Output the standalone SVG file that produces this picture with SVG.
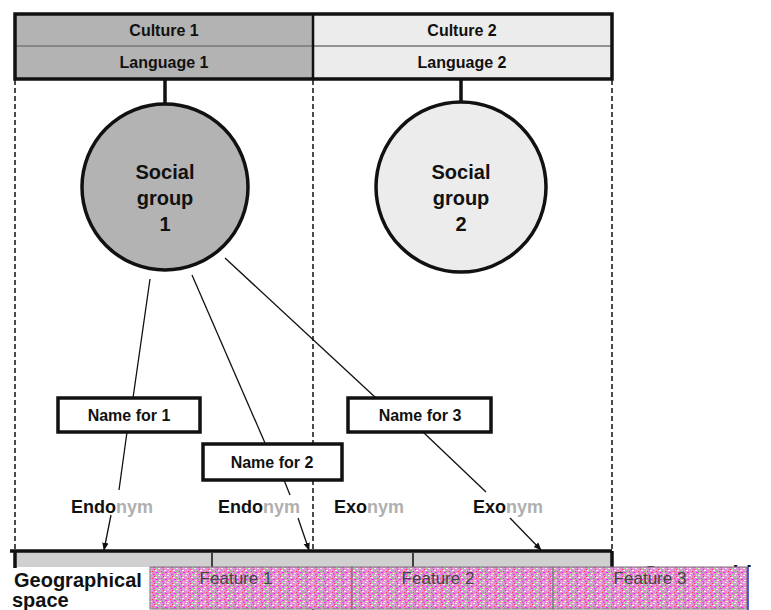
<svg xmlns="http://www.w3.org/2000/svg" width="771" height="610" viewBox="0 0 771 610">
<style>
.t{font-family:"Liberation Sans",Arial,sans-serif;font-weight:bold;fill:#111;text-anchor:middle}
.hdr{font-size:16px}
.sg{font-size:20px}
.nm{font-size:16px}
.lb{font-size:18px;font-family:"Liberation Sans",Arial,sans-serif;font-weight:bold}
.g{fill:#b0b0b0}
.dash{stroke:#111;stroke-width:1.5;stroke-dasharray:5,3;fill:none}
.conn{stroke:#111;stroke-width:1.3;fill:none}
.box{fill:#fff;stroke:#111;stroke-width:3.5}
.ft{font-family:"Liberation Sans",Arial,sans-serif;font-size:17px;fill:#444;text-anchor:middle}
</style>
<defs>
<marker id="ah" viewBox="0 0 10 10" refX="9" refY="5" markerWidth="8" markerHeight="8" orient="auto-start-reverse" markerUnits="userSpaceOnUse">
<path d="M0,1 L10,5 L0,9 z" fill="#111"/>
</marker>
<pattern id="noise" width="9" height="7" patternUnits="userSpaceOnUse">
<rect width="9" height="7" fill="#e090d0"/>
<rect x="0" y="0" width="2" height="1" fill="#ff30ff"/>
<rect x="3" y="0" width="1" height="2" fill="#9ef09a"/>
<rect x="5" y="1" width="2" height="1" fill="#f0f0f0"/>
<rect x="1" y="2" width="1" height="1" fill="#ff3060"/>
<rect x="7" y="2" width="1" height="2" fill="#c0c0c0"/>
<rect x="2" y="3" width="2" height="1" fill="#ffffff"/>
<rect x="5" y="4" width="1" height="1" fill="#60e060"/>
<rect x="0" y="5" width="1" height="2" fill="#a0a0a0"/>
<rect x="3" y="5" width="2" height="1" fill="#ff20ff"/>
<rect x="6" y="6" width="2" height="1" fill="#f4f4a0"/>
<rect x="8" y="4" width="1" height="1" fill="#ff4040"/>
</pattern>
<clipPath id="geoclip"><rect x="0" y="573" width="150" height="37"/></clipPath>
<clipPath id="geoclip2"><rect x="620" y="540" width="151" height="27"/></clipPath>
</defs>

<!-- header -->
<g id="culture1">
<rect x="15" y="14" width="298" height="32" fill="#b3b3b3"/>
<text class="t hdr" x="164" y="36">Culture 1</text>
</g>
<g id="language1">
<rect x="15" y="46" width="298" height="33" fill="#b3b3b3"/>
<text class="t hdr" x="164" y="68">Language 1</text>
</g>
<g id="culture2">
<rect x="313" y="14" width="299" height="32" fill="#ececec"/>
<text class="t hdr" x="462" y="36">Culture 2</text>
</g>
<g id="language2">
<rect x="313" y="46" width="299" height="33" fill="#ececec"/>
<text class="t hdr" x="462" y="68">Language 2</text>
</g>
<g id="header-frame" fill="none" stroke="#111">
<line x1="15" y1="46" x2="612" y2="46" stroke="#777" stroke-width="1.5"/>
<rect x="15" y="14" width="597" height="65" stroke-width="3.5"/>
<line x1="313" y1="14" x2="313" y2="79" stroke-width="2.5"/>
</g>

<!-- dashed column lines -->
<g id="columns">
<line class="dash" x1="15" y1="80" x2="15" y2="551"/>
<line class="dash" x1="313" y1="80" x2="313" y2="610"/>
<line class="dash" x1="612" y1="80" x2="612" y2="551"/>
</g>

<!-- geographic band -->
<g id="geo-band">
<rect x="15" y="551" width="597" height="16" fill="#d0d0d0"/>
<line x1="10" y1="551" x2="612" y2="551" stroke="#111" stroke-width="3.5"/>
<line x1="15" y1="551" x2="15" y2="568" stroke="#111" stroke-width="3.5"/>
<line x1="612" y1="551" x2="612" y2="568" stroke="#111" stroke-width="3.5"/>
<line x1="212" y1="553" x2="212" y2="568" stroke="#111" stroke-width="1.5"/>
<line x1="413" y1="553" x2="413" y2="568" stroke="#111" stroke-width="1.5"/>
</g>

<!-- connectors -->
<g id="connectors">
<line x1="165" y1="79" x2="165" y2="104" stroke="#111" stroke-width="3.5"/>
<line x1="461" y1="79" x2="461" y2="102" stroke="#111" stroke-width="3.5"/>
<line class="conn" x1="150" y1="279" x2="133" y2="398"/>
<line class="conn" x1="127" y1="432" x2="119" y2="490"/>
<line class="conn" x1="111" y1="515" x2="104" y2="550" marker-end="url(#ah)"/>
<line class="conn" x1="192" y1="275" x2="265" y2="443"/>
<line class="conn" x1="284" y1="480" x2="290" y2="495"/>
<line class="conn" x1="298" y1="518" x2="309" y2="550" marker-end="url(#ah)"/>
<line class="conn" x1="225" y1="258" x2="376" y2="398"/>
<line class="conn" x1="423" y1="432" x2="486" y2="492"/>
<line class="conn" x1="510" y1="518" x2="541" y2="550" marker-end="url(#ah)"/>
</g>

<!-- social groups -->
<g id="social-group-1">
<circle cx="165" cy="187" r="83" fill="#b3b3b3" stroke="#111" stroke-width="3.5"/>
<text class="t sg" x="165" y="179">Social</text>
<text class="t sg" x="165" y="205">group</text>
<text class="t sg" x="165" y="231">1</text>
</g>
<g id="social-group-2">
<circle cx="461" cy="187" r="85" fill="#ececec" stroke="#111" stroke-width="3.5"/>
<text class="t sg" x="461" y="179">Social</text>
<text class="t sg" x="461" y="205">group</text>
<text class="t sg" x="461" y="231">2</text>
</g>

<!-- names -->
<g id="name-for-1">
<rect class="box" x="58" y="398" width="142" height="34"/>
<text class="t nm" x="129" y="421">Name for 1</text>
</g>
<g id="name-for-2">
<rect class="box" x="203" y="444" width="139" height="36"/>
<text class="t nm" x="272" y="468">Name for 2</text>
</g>
<g id="name-for-3">
<rect class="box" x="348" y="398" width="143" height="34"/>
<text class="t nm" x="420" y="421">Name for 3</text>
</g>

<!-- labels -->
<g id="label-endonym-1"><text class="lb" x="71" y="513"><tspan fill="#111">Endo</tspan><tspan class="g">nym</tspan></text></g>
<g id="label-endonym-2"><text class="lb" x="218" y="513"><tspan fill="#111">Endo</tspan><tspan class="g">nym</tspan></text></g>
<g id="label-exonym-1"><text class="lb" x="334" y="513"><tspan fill="#111">Exo</tspan><tspan class="g">nym</tspan></text></g>
<g id="label-exonym-2"><text class="lb" x="473" y="513"><tspan fill="#111">Exo</tspan><tspan class="g">nym</tspan></text></g>

<!-- geographical space -->
<g id="geo-label">
<text x="14" y="587" clip-path="url(#geoclip)" style="font-family:'Liberation Sans',Arial,sans-serif;font-weight:bold;font-size:20px;fill:#111">Geographical</text>
<text x="12" y="607" style="font-family:'Liberation Sans',Arial,sans-serif;font-weight:bold;font-size:20px;fill:#111">space</text>
</g>
<g id="geo-label-2">
<text x="642" y="581" clip-path="url(#geoclip2)" style="font-family:'Liberation Sans',Arial,sans-serif;font-weight:bold;font-size:22px;fill:#111">Geographi</text>
</g>

<!-- features -->
<g id="feature-1">
<rect x="150" y="567" width="202" height="42" fill="url(#noise)" stroke="#777" stroke-width="1"/>
<text class="ft" x="236" y="584">Feature 1</text>
</g>
<g id="feature-2">
<rect x="352" y="567" width="201" height="42" fill="url(#noise)" stroke="#777" stroke-width="1"/>
<text class="ft" x="438" y="584">Feature 2</text>
</g>
<g id="feature-3">
<rect x="553" y="567" width="194" height="42" fill="url(#noise)" stroke="#777" stroke-width="1"/>
<text class="ft" x="650" y="584">Feature 3</text>
<line x1="748" y1="567" x2="748" y2="610" stroke="#2030c0" stroke-width="1.5"/>
</g>
</svg>
